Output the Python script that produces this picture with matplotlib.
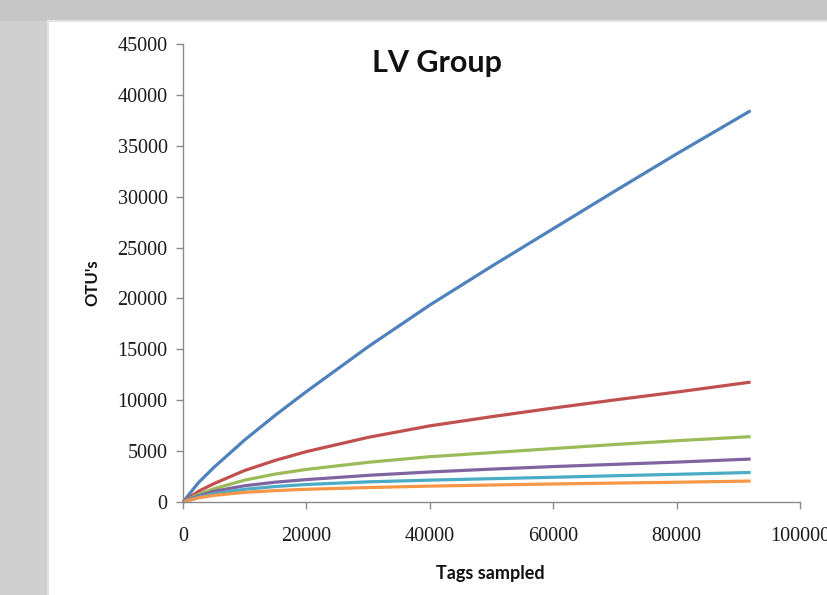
import matplotlib
matplotlib.use("Agg")
import matplotlib.pyplot as plt
from matplotlib.patches import Rectangle

# ---- data ----
tags = [0, 2500, 5000, 10000, 15000, 20000, 30000, 40000, 50000, 60000, 70000, 80000, 92000]
s_blue = [0, 1900, 3400, 6100, 8550, 10850, 15250, 19350, 23150, 26850, 30550, 34200, 38450]
s_red = [0, 1050, 1800, 3100, 4100, 4950, 6350, 7480, 8380, 9230, 10030, 10800, 11780]
s_green = [0, 750, 1300, 2150, 2750, 3200, 3900, 4450, 4850, 5250, 5650, 6020, 6420]
s_purple = [0, 600, 1050, 1600, 1950, 2200, 2620, 2950, 3230, 3480, 3700, 3920, 4220]
s_cyan = [0, 480, 800, 1250, 1520, 1720, 1980, 2150, 2290, 2430, 2580, 2720, 2900]
s_orange = [0, 400, 650, 950, 1120, 1250, 1420, 1560, 1670, 1770, 1860, 1940, 2060]

series = [s_blue, s_red, s_green, s_purple, s_cyan, s_orange]
colors = ["#4F81BD", "#C0504D", "#9BBB59", "#8064A2", "#4BACC6", "#F79646"]

x_ticks = [0, 20000, 40000, 60000, 80000, 100000]
y_ticks = list(range(0, 45001, 5000))

W, H = 827, 595
fig = plt.figure(figsize=(W / 100, H / 100), dpi=100)
fig.patch.set_facecolor("#c6c6c6")

# lighter left strip of the gray background
left_strip = Rectangle((0, 0), 48 / W, 1 - 21 / H, transform=fig.transFigure,
                       facecolor="#cfcfcf", edgecolor="none", zorder=-11)
fig.patches.append(left_strip)

# white chart panel
panel = Rectangle((48 / W, -0.01), 1.0, 1 - 21 / H + 0.01, transform=fig.transFigure,
                  facecolor="white", edgecolor="#e2e2e2", linewidth=1.5, zorder=-10)
fig.patches.append(panel)

ax = fig.add_axes([183 / W, 1 - 502 / H, (800 - 183) / W, (502 - 44) / H])
ax.set_zorder(5)
ax.set_facecolor("none")

for s, c in zip(series, colors):
    ax.plot(tags, s, color=c, linewidth=2.3, solid_capstyle="butt", clip_on=False)

ax.set_xlim(0, 100000)
ax.set_ylim(0, 45000)
ax.set_xticks(x_ticks)
ax.set_yticks(y_ticks)
ax.set_xticklabels([str(v) for v in x_ticks])
ax.set_yticklabels([str(v) for v in y_ticks])

for side in ["top", "right"]:
    ax.spines[side].set_visible(False)
for side in ["left", "bottom"]:
    ax.spines[side].set_color("#8a8a8a")
    ax.spines[side].set_linewidth(1.0)

ax.tick_params(axis="both", direction="out", length=5, width=1.0, color="#8a8a8a",
               labelcolor="#1a1a1a")
ax.tick_params(axis="x", pad=13)
ax.tick_params(axis="y", pad=6)
for lab in ax.get_xticklabels() + ax.get_yticklabels():
    lab.set_fontfamily("Liberation Serif")
    lab.set_fontsize(14.5)

fig.text(437 / W, 1 - 63 / H, "LV Group", ha="center", va="center",
         fontfamily="Lato", fontweight="bold", fontsize=22, color="#111111")
fig.text(92 / W, 1 - 283 / H, "OTU's", ha="center", va="center", rotation=90,
         fontfamily="Lato", fontweight="bold", fontsize=12, color="#111111")
fig.text(490 / W, 1 - 573 / H, "Tags sampled", ha="center", va="center",
         fontfamily="Lato", fontweight="bold", fontsize=13, color="#111111")

fig.savefig("out.png", dpi=100, facecolor=fig.get_facecolor())
